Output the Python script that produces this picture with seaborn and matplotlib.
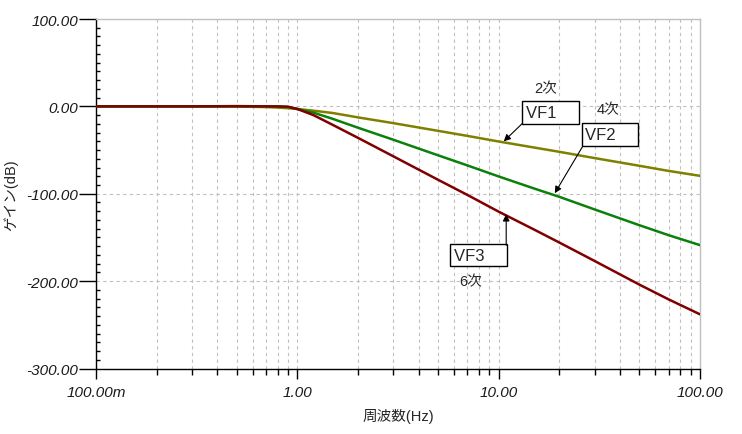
import numpy as np
import pandas as pd
import matplotlib
matplotlib.use("Agg")
import matplotlib.pyplot as plt
from matplotlib.ticker import FixedLocator, MultipleLocator, LogLocator, NullFormatter
import seaborn as sns

# ---- data ----
freq = [0.1, 0.2, 0.3, 0.5, 0.7, 0.8, 0.9, 1.0, 1.2, 1.5, 2, 3, 5, 7, 10, 15, 20, 30, 50, 70, 100]
vf1 = [0, 0, 0, -0.2, -0.8, -1.4, -2.1, -3.0, -4.9, -7.6, -12.6, -19.2, -28.0, -33.8, -40.2, -47.1, -52.0, -59.2, -68.0, -73.9, -79.5]
vf2 = [0, 0, 0, 0, 0, -0.1, -0.7, -3.0, -7.1, -14.3, -24.4, -38.2, -56.0, -67.6, -80.2, -94.0, -103.5, -118.0, -136.0, -147.5, -158.8]
vf3 = [0, 0, 0, 0.3, 0, 0, -0.4, -3.0, -9.9, -21.2, -36.0, -57.2, -84.0, -101.4, -120.5, -141.0, -155.8, -177.0, -204.0, -221.0, -238.0]
series_names = ["VF1", "VF2", "VF3"]
orders = ["2次", "4次", "6次"]
x_ticks = [0.1, 1, 10, 100]
x_tick_labels = ["100.00m", "1.00", "10.00", "100.00"]
y_ticks = [-300, -200, -100, 0, 100]
y_tick_labels = ["-300.00", "-200.00", "-100.00", "0.00", "100.00"]
x_label = "周波数(Hz)"
y_label = "ゲイン(dB)"

df = pd.DataFrame({
    "f": freq * 3,
    "gain": vf1 + vf2 + vf3,
    "series": [series_names[0]] * len(freq) + [series_names[1]] * len(freq) + [series_names[2]] * len(freq),
})

sns.set_style("white")
plt.rcParams["font.family"] = ["Liberation Sans", "Noto Sans CJK JP", "DejaVu Sans"]

fig = plt.figure(figsize=(7.42, 4.35), dpi=100)
ax = fig.add_axes([96 / 742, 1 - 369.5 / 435, (700 - 96) / 742, (369.5 - 20) / 435])

palette = {"VF1": "#808000", "VF2": "#0b800b", "VF3": "#800000"}
sns.lineplot(data=df, x="f", y="gain", hue="series", palette=palette, linewidth=1.8,
             legend=False, ax=ax, zorder=3)

ax.set_xscale("log")
ax.set_xlim(0.1, 100)
ax.set_ylim(-300, 100)

ax.xaxis.set_major_locator(FixedLocator(x_ticks))
ax.set_xticklabels(x_tick_labels)
ax.xaxis.set_minor_locator(LogLocator(base=10, subs=np.arange(2, 10), numticks=20))
ax.xaxis.set_minor_formatter(NullFormatter())
ax.yaxis.set_major_locator(FixedLocator(y_ticks))
ax.set_yticklabels(y_tick_labels)
ax.yaxis.set_minor_locator(MultipleLocator(10))

for lab in ax.get_xticklabels() + ax.get_yticklabels():
    lab.set_fontstyle("italic")
    lab.set_fontsize(11)
    lab.set_color("#1a1a1a")

ax.tick_params(axis="both", which="both", bottom=True, left=True, top=False, right=False)
ax.tick_params(axis="x", which="major", direction="out", length=7, width=1, pad=5, color="black")
ax.tick_params(axis="x", which="minor", direction="out", length=4, width=1, color="black")
ax.tick_params(axis="y", which="major", direction="out", length=12, width=1, pad=1, color="black")
ax.tick_params(axis="y", which="minor", direction="in", length=3, width=1, color="black")

ax.grid(True, which="both", axis="x", color="#c0c0c0", linestyle=(0, (3, 3)), linewidth=0.8, zorder=0)
ax.grid(True, which="major", axis="y", color="#c0c0c0", linestyle=(0, (3, 3)), linewidth=0.8, zorder=0)

for s in ["top", "right"]:
    ax.spines[s].set_color("#c0c0c0")
    ax.spines[s].set_linewidth(1)
for s in ["left", "bottom"]:
    ax.spines[s].set_color("black")
    ax.spines[s].set_linewidth(1)

ax.set_xlabel(x_label, fontsize=10.5, labelpad=6)
ax.set_ylabel(y_label, fontsize=10.5, labelpad=6)

bbox = dict(boxstyle="square,pad=0.22", fc="white", ec="black", lw=1)
arrow_kw = dict(arrowstyle="-|>", color="black", lw=0.8, mutation_scale=10, shrinkA=0, shrinkB=0)

# label boxes with arrows: (label, box centre, arrow tip, relpos)
ann = [
    ("VF1", (18.1, -6.9), (10.6, -40.0), (0, 0)),
    ("VF2", (35.7, -32.0), (19.0, -99.4), (0, 0)),
]
for name, tpos, tip, rel in ann:
    ap = dict(arrow_kw)
    ap["relpos"] = rel
    ax.annotate(name + "    ", xy=tip, xytext=tpos, ha="center", va="center", fontsize=12,
                bbox=bbox, arrowprops=ap, zorder=5)

# VF3 box with a vertical arrow rising from its top-right corner
ax.text(7.95, -170.3, "VF3    ", ha="center", va="center", fontsize=12, bbox=bbox, zorder=5)
ax.annotate("", xy=(10.9, -123.4), xytext=(10.9, -159.0), arrowprops=dict(arrow_kw), zorder=6)

order_pos = [(17.1, 20.6), (34.9, -3.4), (7.26, -200.0)]
for txt, pos in zip(orders, order_pos):
    ax.text(pos[0], pos[1], txt, ha="center", va="center", fontsize=10.5, zorder=5)

fig.savefig("out.png", dpi=100)
